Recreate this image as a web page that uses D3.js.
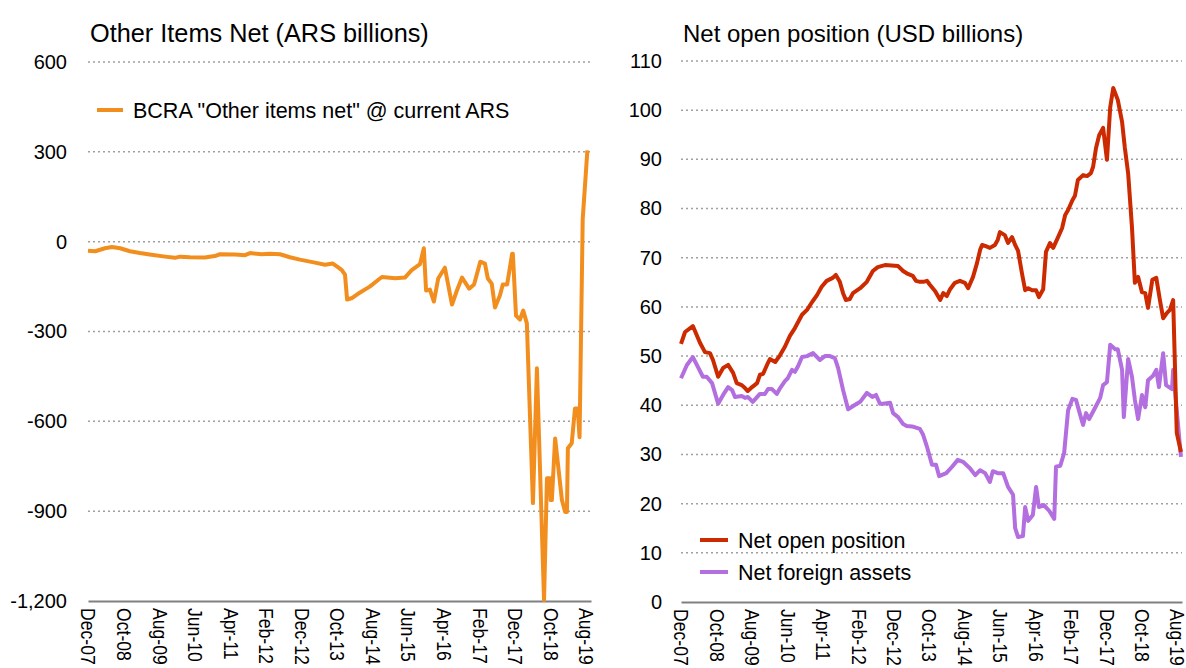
<!DOCTYPE html>
<html>
<head>
<meta charset="utf-8">
<script src="https://cdnjs.cloudflare.com/ajax/libs/d3/7.8.5/d3.min.js"></script>
<style>
  body { margin: 0; background: #fff; }
  svg text { font-family: "Liberation Sans Narrow", "Arial Narrow", "Liberation Sans", Arial, sans-serif; fill: #000; }
</style>
</head>
<body>
<svg id="chart" width="1186" height="668"></svg>
<script>
// ---- data ----
var tickDates = ["2007-12-01","2008-10-01","2009-08-01","2010-06-01","2011-04-01","2012-02-01","2012-12-01",
                 "2013-10-01","2014-08-01","2015-06-01","2016-04-01","2017-02-01","2017-12-01","2018-10-01","2019-08-01"];

var leftTicks = [600, 300, 0, -300, -600, -900, -1200];
var rightTicks = [0, 10, 20, 30, 40, 50, 60, 70, 80, 90, 100, 110];

// BCRA "Other items net" @ current ARS (ARS bn)
var oinDates = ["2007-12-01","2008-02-01","2008-04-24","2008-06-22","2008-09-01","2008-11-24","2009-02-18","2009-05-12","2009-09-21","2009-12-15",
  "2010-01-27","2010-04-21","2010-08-27","2010-11-21","2011-01-03","2011-05-12","2011-08-06","2011-09-18","2011-12-27","2012-03-06",
  "2012-06-01","2012-08-24","2012-11-18","2013-03-27","2013-06-21","2013-08-27","2013-10-09","2013-11-12","2013-12-09","2013-12-27",
  "2014-02-09","2014-03-27","2014-07-09","2014-09-18","2014-10-21","2015-02-12","2015-05-06","2015-07-03","2015-09-12","2015-10-15",
  "2015-11-03","2015-12-06","2016-01-09","2016-02-15","2016-04-12","2016-06-12","2016-07-24","2016-09-06","2016-11-06","2016-12-18",
  "2017-02-09","2017-03-21","2017-04-15","2017-05-18","2017-06-15","2017-07-27","2017-08-21","2017-09-27","2017-11-09","2017-11-15",
  "2017-12-12","2018-01-15","2018-02-12","2018-03-15","2018-05-06","2018-06-09","2018-08-09","2018-09-03","2018-10-01","2018-10-05",
  "2018-10-15","2018-11-12","2019-01-09","2019-02-06","2019-02-21","2019-03-01","2019-04-03","2019-05-01","2019-05-24","2019-06-09",
  "2019-07-06","2019-08-15"];
var oinValues = [-30,-32,-22,-18,-22,-32,-38,-43,-50,-54,
  -50,-52,-53,-48,-42,-43,-45,-38,-42,-40,
  -42,-52,-60,-70,-77,-73,-85,-95,-110,-193,
  -188,-175,-150,-128,-118,-122,-120,-95,-75,-22,
  -163,-160,-200,-123,-87,-210,-163,-120,-157,-143,
  -67,-73,-123,-140,-220,-180,-143,-143,-40,-40,
  -247,-260,-230,-273,-873,-423,-1197,-790,-790,-863,
  -863,-657,-863,-903,-903,-690,-673,-557,-557,-653,
  75,305];

// Net open position (USD bn)
var nopDates = ["2007-12-01","2008-01-05","2008-03-12","2008-05-12","2008-06-24","2008-08-06","2008-09-01","2008-10-15","2008-11-27","2009-01-09",
  "2009-02-21","2009-03-24","2009-05-06","2009-06-03","2009-06-27","2009-08-03","2009-09-15","2009-10-09","2009-11-06","2009-12-09",
  "2010-01-03","2010-02-18","2010-04-01","2010-05-12","2010-06-24","2010-08-06","2010-10-06","2010-11-18","2011-01-01","2011-02-12",
  "2011-03-24","2011-05-06","2011-06-27","2011-07-24","2011-08-27","2011-09-24","2011-10-18","2011-11-21","2011-12-18","2012-02-18",
  "2012-04-15","2012-06-06","2012-07-18","2012-09-18","2013-01-09","2013-02-21","2013-04-03","2013-05-15","2013-06-12","2013-07-15",
  "2013-08-12","2013-09-15","2013-10-09","2013-11-24","2014-01-06","2014-02-01","2014-03-03","2014-04-01","2014-05-12","2014-06-24",
  "2014-08-06","2014-09-03","2014-10-15","2014-11-18","2014-12-15","2015-01-01","2015-01-27","2015-03-09","2015-04-21","2015-05-15",
  "2015-06-03","2015-07-15","2015-08-12","2015-09-15","2015-10-12","2015-11-06","2015-12-09","2016-01-06","2016-02-01","2016-03-06",
  "2016-04-09","2016-05-03","2016-06-09","2016-07-03","2016-08-06","2016-09-03","2016-10-15","2016-11-18","2016-12-15","2017-01-09",
  "2017-02-15","2017-03-09","2017-04-03","2017-05-18","2017-06-21","2017-07-24","2017-08-12","2017-09-06","2017-10-03","2017-11-06",
  "2017-12-09","2018-01-06","2018-02-01","2018-03-12","2018-04-18","2018-05-12","2018-06-09","2018-07-12","2018-08-06","2018-09-03",
  "2018-10-06","2018-11-03","2018-11-27","2019-01-03","2019-02-06","2019-03-09","2019-04-06","2019-05-09","2019-06-03","2019-07-01",
  "2019-08-01","2019-09-06"];
var nopValues = [52.5,54.9,56.1,52.7,50.8,50.6,49.2,45.8,47.6,48.2,
  46.6,44.5,44.1,43.5,42.9,43.7,44.5,46.2,46.4,48.2,
  49.4,48.8,50.2,51.9,54.1,55.7,58.4,59.4,61.0,62.4,
  64.1,65.3,65.9,66.5,65.1,62.8,61.4,61.6,62.8,63.8,
  65.1,67.3,68.1,68.5,68.3,67.3,66.7,66.3,65.3,65.1,
  65.1,65.3,64.5,63.2,61.4,62.8,62.2,63.6,64.9,65.3,
  64.9,63.8,66.1,68.9,71.6,72.6,72.4,72.0,72.6,73.6,
  75.2,74.6,73.0,74.2,72.6,71.4,66.9,63.4,63.8,63.4,
  63.4,62.0,63.6,71.2,73.0,72.0,74.2,76.0,78.7,79.7,
  81.7,82.6,85.8,86.8,86.6,87.2,88.5,92.3,94.9,96.4,
  89.9,100.6,104.5,102.1,97.6,92.3,87.2,76.2,64.9,66.1,
  63.0,62.8,59.8,65.5,65.9,61.4,57.7,58.8,59.4,61.4,
  34.4,30.5];

// Net foreign assets (USD bn)
var nfaDates = ["2007-12-01","2008-01-21","2008-03-12","2008-04-24","2008-06-06","2008-07-09","2008-08-24","2008-10-15","2008-11-27","2009-01-09",
  "2009-02-12","2009-03-09","2009-05-06","2009-06-03","2009-06-27","2009-08-09","2009-10-09","2009-11-21","2009-12-18","2010-01-21",
  "2010-03-03","2010-04-01","2010-05-12","2010-06-06","2010-07-12","2010-08-06","2010-09-03","2010-10-06","2010-11-18","2011-01-09",
  "2011-03-09","2011-04-21","2011-06-03","2011-07-15","2011-08-12","2011-09-24","2011-11-06","2012-01-06","2012-02-18","2012-04-15",
  "2012-06-01","2012-07-03","2012-08-06","2012-09-03","2012-11-01","2012-11-27","2013-01-09","2013-02-21","2013-03-24","2013-05-09",
  "2013-07-15","2013-08-12","2013-09-15","2013-10-27","2013-12-01","2013-12-27","2014-02-27","2014-04-18","2014-06-06","2014-07-21",
  "2014-09-18","2014-11-03","2014-12-15","2015-01-27","2015-03-09","2015-04-03","2015-05-15","2015-07-01","2015-08-12","2015-09-24",
  "2015-10-12","2015-11-06","2015-12-18","2016-01-06","2016-02-01","2016-03-12","2016-04-09","2016-05-03","2016-06-15","2016-08-01",
  "2016-09-12","2016-09-27","2016-11-03","2016-12-06","2017-01-09","2017-02-15","2017-03-18","2017-04-21","2017-05-18","2017-06-12",
  "2017-07-09","2017-08-27","2017-10-12","2017-11-06","2017-12-09","2018-01-06","2018-02-18","2018-03-12","2018-04-18","2018-05-03",
  "2018-06-09","2018-07-12","2018-08-06","2018-09-03","2018-10-06","2018-11-03","2018-11-27","2019-01-09","2019-02-06","2019-03-01",
  "2019-04-06","2019-05-01","2019-06-21","2019-07-01","2019-09-06"];
var nfaValues = [45.5,48.2,49.8,47.8,45.8,45.8,44.5,40.3,42.1,43.7,
  43.1,41.7,41.9,41.5,41.7,40.7,42.3,42.3,43.3,43.3,
  42.3,43.5,44.9,45.5,47.2,46.8,48.0,49.8,50.0,50.6,
  49.2,50.0,50.0,49.6,47.6,43.1,39.2,40.1,40.7,42.5,
  41.7,42.1,40.3,40.3,40.5,38.4,37.6,36.2,35.8,35.7,
  35.2,34.0,31.5,27.9,27.9,25.6,26.2,27.5,28.9,28.5,
  27.2,25.8,26.8,26.2,24.4,26.6,26.2,26.2,23.4,21.8,
  15.0,13.2,13.4,19.3,16.5,17.7,23.4,19.3,19.7,18.5,
  16.9,27.5,27.7,30.3,39.0,41.3,41.1,38.2,36.0,38.4,
  37.2,39.4,41.5,44.1,44.7,52.3,51.4,51.4,47.2,37.6,
  49.4,45.8,41.1,37.2,42.1,39.6,45.1,46.0,47.2,43.7,
  50.6,44.1,43.3,47.2,29.5];

var orange = "#f28e1e", red = "#cc2a00", purple = "#b36ee0";

var parseDate = d3.timeParse("%Y-%m-%d");
var fmtTick = d3.timeFormat("%b-%y");
var svg = d3.select("#chart");

function series(dates, values) {
  return dates.map(function(d, i) { return { date: parseDate(d), v: values[i] }; });
}

// excel style number: plain hyphen for negatives
var fmtThousands = function(d) { return d3.format(",d")(d).replace("\u2212", "-"); };

function drawPanel(opt) {
  var x = d3.scaleTime()
    .domain([parseDate("2007-12-01"), parseDate("2019-09-15")])
    .range([opt.x0, opt.x1]);
  var y = d3.scaleLinear().domain(opt.yDomain).range([opt.yBottom, opt.yTop]);

  var g = svg.append("g");

  // title
  g.append("text")
    .attr("x", opt.titleX).attr("y", 42)
    .style("font-size", opt.titleSize)
    .text(opt.title);

  // dotted gridlines (not on the bottom one, that is the axis)
  g.selectAll(".grid")
    .data(opt.ticks.filter(function(t) { return t != opt.yDomain[0]; }))
    .enter().append("line")
      .attr("x1", opt.x0).attr("x2", opt.x1)
      .attr("y1", function(d) { return y(d); })
      .attr("y2", function(d) { return y(d); })
      .attr("stroke", "#a0a0a0")
      .attr("stroke-width", 1.5)
      .attr("stroke-dasharray", "2,3");

  // y axis labels
  var yAxis = d3.axisLeft(y).tickValues(opt.ticks).tickSize(0).tickPadding(0)
    .tickFormat(opt.fmt);
  g.append("g")
    .attr("transform", "translate(" + opt.labelX + ",0)")
    .call(yAxis)
    .call(function(a) { a.select(".domain").remove(); })
    .selectAll("text")
      .style("font-size", "20px")
      .attr("fill", "#000");

  // x axis
  var xAxis = d3.axisBottom(x)
    .tickValues(tickDates.map(parseDate))
    .tickSize(0)
    .tickFormat(fmtTick);
  var xa = g.append("g")
    .attr("transform", "translate(0," + opt.yBottom + ")")
    .call(xAxis);
  xa.select(".domain").attr("stroke", "#808080").attr("stroke-width", 2);
  xa.selectAll("text")
    .style("font-size", "20px")
    .attr("fill", "#000")
    .attr("y", 0).attr("x", 8)
    .attr("dy", "0.35em")
    .attr("transform", "rotate(90) scale(0.88,1)")
    .style("text-anchor", "start");

  var line = d3.line()
    .x(function(d) { return x(d.date); })
    .y(function(d) { return y(d.v); });

  opt.lines.forEach(function(s) {
    g.append("path")
      .datum(s.data)
      .attr("fill", "none")
      .attr("stroke", s.color)
      .attr("stroke-width", 4)
      .attr("stroke-linejoin", "round")
      .attr("d", line);
  });

  // legend
  var leg = g.selectAll(".leg")
    .data(opt.legend)
    .enter().append("g")
      .attr("transform", function(d, i) { return "translate(" + opt.legX + "," + (opt.legY + i * 32) + ")"; });
  leg.append("line")
    .attr("x1", 0).attr("x2", opt.legLen)
    .attr("stroke", function(d) { return d.color; })
    .attr("stroke-width", 4);
  leg.append("text")
    .attr("x", opt.legLen + 10).attr("dy", "0.35em")
    .style("font-size", "21.5px")
    .text(function(d) { return d.label; });
}

var oin = series(oinDates, oinValues),
    nop = series(nopDates, nopValues),
    nfa = series(nfaDates, nfaValues);

drawPanel({
  title: "Other Items Net (ARS billions)", titleX: 90, titleSize: "25.3px",
  x0: 88, x1: 591, yTop: 62, yBottom: 601, yDomain: [-1200, 600],
  ticks: leftTicks, labelX: 67, fmt: fmtThousands,
  legX: 97, legY: 110, legLen: 26,
  lines: [{ data: oin, color: orange }],
  legend: [{ color: orange, label: "BCRA \"Other items net\" @ current ARS" }]
});

drawPanel({
  title: "Net open position (USD billions)", titleX: 683, titleSize: "24px",
  x0: 681, x1: 1182, yTop: 61, yBottom: 602, yDomain: [0, 110],
  ticks: rightTicks, labelX: 662, fmt: d3.format("d"),
  legX: 700, legY: 540, legLen: 28,
  // purple first so the red sits on top
  lines: [{ data: nfa, color: purple }, { data: nop, color: red }],
  legend: [{ color: red, label: "Net open position" }, { color: purple, label: "Net foreign assets" }]
});
</script>
</body>
</html>
